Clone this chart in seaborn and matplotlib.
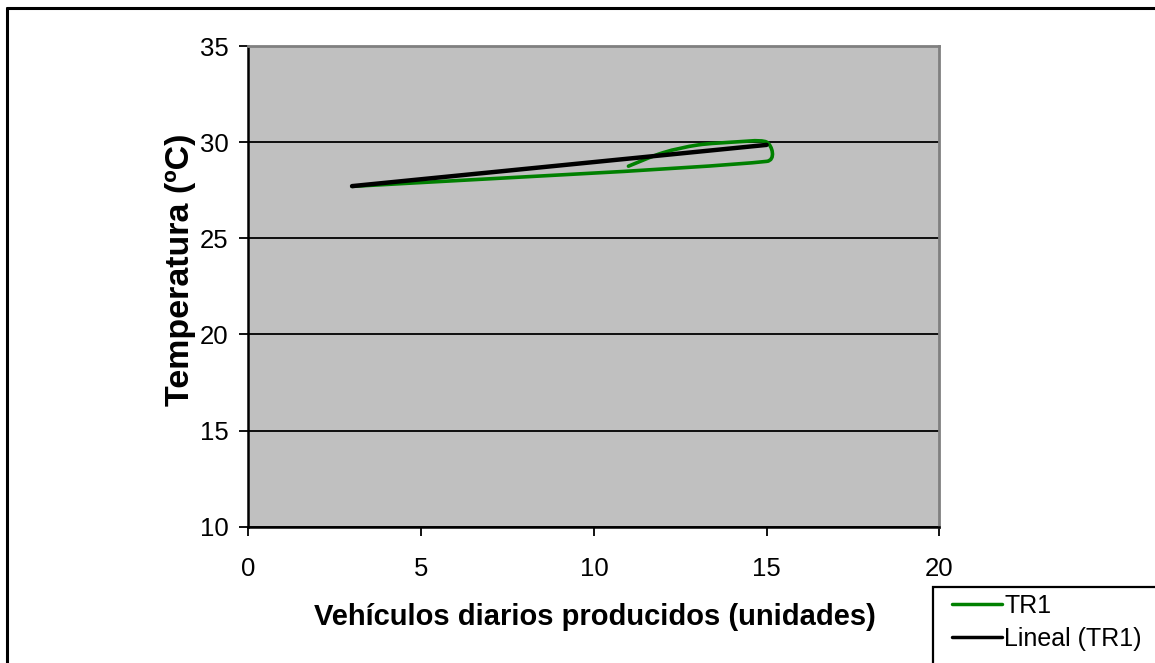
import numpy as np
import matplotlib
matplotlib.use("Agg")
import matplotlib.pyplot as plt
import seaborn as sns
from matplotlib.path import Path
from matplotlib.patches import PathPatch, Rectangle
from matplotlib.lines import Line2D

# Daily production (vehicles) against temperature, in recorded order
vehiculos = [3, 15, 15, 14, 14, 13, 12, 11]
temperatura = [27.7, 29.0, 30.0, 30.0, 30.0, 29.85, 29.45, 28.75]
serie_label = "TR1"
tendencia_label = "Lineal (TR1)"
x_ticks = [0, 5, 10, 15, 20]
y_ticks = [10, 15, 20, 25, 30, 35]
x_title = "Vehículos diarios producidos (unidades)"
y_title = "Temperatura (ºC)"

GREEN = "#008000"
PLOT_BG = "#C0C0C0"

sns.set_theme(style="white")
plt.rcParams["font.family"] = ["Liberation Sans", "DejaVu Sans"]

W, H = 1155, 663
fig = plt.figure(figsize=(W / 100, H / 100), dpi=100)
fig.patch.set_facecolor("white")

# plot area in pixel geometry
left, right, top, bottom = 248.4, 939.4, 46.0, 526.7
ax = fig.add_axes([left / W, 1 - bottom / H, (right - left) / W, (bottom - top) / H])
ax.set_facecolor(PLOT_BG)

# linear trend of the series
sns.regplot(x=np.array(vehiculos, dtype=float), y=np.array(temperatura, dtype=float),
            scatter=False, ci=None, truncate=True, color="black", ax=ax,
            line_kws={"lw": 3.2, "solid_capstyle": "round", "zorder": 4})

ax.set_xlim(x_ticks[0], x_ticks[-1])
ax.set_ylim(y_ticks[0], y_ticks[-1])
ax.set_xticks(x_ticks)
ax.set_yticks(y_ticks)
ax.set_xticklabels([str(t) for t in x_ticks])
ax.set_yticklabels([str(t) for t in y_ticks])


def smooth_path(axis, xs, ys):
    """Cubic Bezier path through the points with spreadsheet-style smoothing."""
    pts = axis.transData.transform(np.column_stack([xs, ys]).astype(float))
    n = len(pts)
    verts = [pts[0]]
    codes = [Path.MOVETO]
    for i in range(n - 1):
        p0 = pts[i - 1] if i > 0 else pts[i]
        p1 = pts[i]
        p2 = pts[i + 1]
        p3 = pts[i + 2] if i + 2 < n else pts[i + 1]
        d12 = np.hypot(*(p2 - p1))
        d02 = np.hypot(*(p2 - p0))
        d13 = np.hypot(*(p3 - p1))
        f = 1.0 / 6.0
        f0 = f if d02 / 6 < d12 / 2 else (d12 / d02 / 2 if d02 > 0 else 0.0)
        f1 = f if d13 / 6 < d12 / 2 else (d12 / d13 / 2 if d13 > 0 else 0.0)
        c1 = p1 + (p2 - p0) * f0
        c2 = p2 - (p3 - p1) * f1
        verts += [c1, c2, p2]
        codes += [Path.CURVE4] * 3
    data_verts = axis.transData.inverted().transform(np.array(verts))
    return Path(data_verts, codes)


green_path = smooth_path(ax, vehiculos, temperatura)
ax.add_patch(PathPatch(green_path, facecolor="none", edgecolor=GREEN, lw=2.6,
                       capstyle="round", joinstyle="round", zorder=3))

# gridlines and frame
ax.yaxis.grid(True, color="black", lw=1.3)
ax.xaxis.grid(False)
ax.set_axisbelow(True)
for side in ("left", "bottom"):
    ax.spines[side].set_color("black")
    ax.spines[side].set_linewidth(1.8)
for side in ("top", "right"):
    ax.spines[side].set_color("#808080")
    ax.spines[side].set_linewidth(2.0)

ax.tick_params(axis="both", which="major", direction="out", length=6.5, width=1.3,
               color="black", labelsize=18.5, labelcolor="black")
ax.tick_params(axis="y", pad=8, left=True)
ax.tick_params(axis="x", pad=15, bottom=True)

ax.set_xlabel(x_title, fontsize=21, fontweight="bold", color="black")
ax.set_ylabel(y_title, fontsize=24.5, fontweight="bold", color="black")
ax.xaxis.label.set_va("center")
ax.yaxis.label.set_va("center")
ax.xaxis.set_label_coords((595 - left) / (right - left), (bottom - 617) / (bottom - top))
ax.yaxis.set_label_coords((181 - left) / (right - left), (bottom - 270) / (bottom - top))

# outer chart border
fig.add_artist(Line2D([7 / W, 1.02], [1 - 8 / H, 1 - 8 / H], transform=fig.transFigure,
                      color="black", lw=2.2))
fig.add_artist(Line2D([7 / W, 7 / W], [1 - 8 / H, -0.02], transform=fig.transFigure,
                      color="black", lw=2.2))

# legend box
fig.add_artist(Rectangle((933 / W, -0.1), 0.4, 0.1 + 1 - 587 / H, transform=fig.transFigure,
                         facecolor="white", edgecolor="black", lw=1.6, zorder=5))
handles = [Line2D([], [], color=GREEN, lw=2.5), Line2D([], [], color="black", lw=2.5)]
fig.legend(handles, [serie_label, tendencia_label], loc="upper left",
           bbox_to_anchor=(952 / W, 1 - 594 / H), frameon=False, fontsize=18,
           handlelength=2.0, handletextpad=0.1, borderpad=0, borderaxespad=0,
           labelspacing=0.35, labelcolor="black").set_zorder(6)

fig.savefig("out.png", dpi=100, facecolor="white")
